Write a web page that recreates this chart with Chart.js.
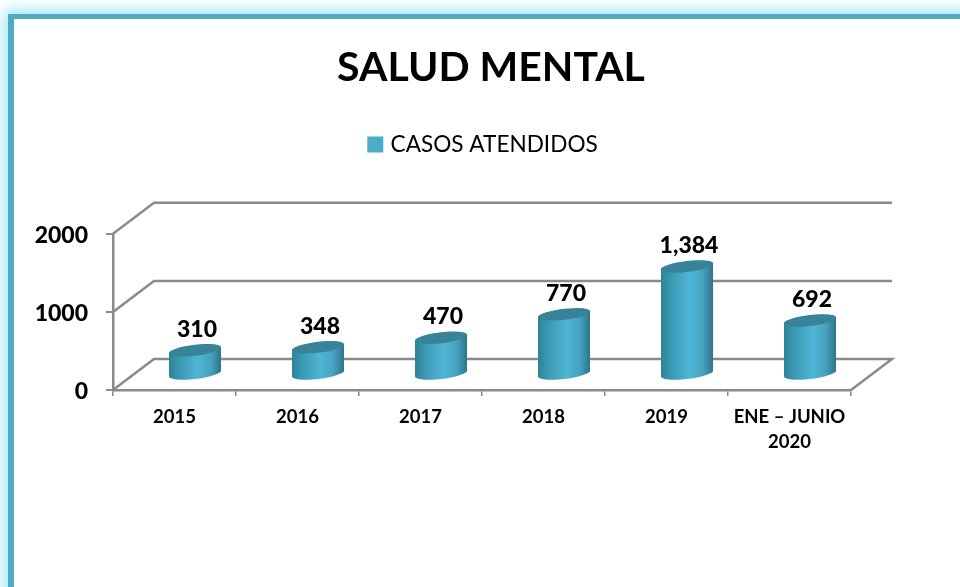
<!DOCTYPE html>
<html><head><meta charset="utf-8">
<script src="https://cdn.jsdelivr.net/npm/chart.js@4"></script>
<style>
html,body{margin:0;padding:0;background:#fff;width:960px;height:587px;overflow:hidden}
#frame{position:absolute;left:8px;top:14px;width:1100px;height:800px;box-sizing:border-box;border-left:6px solid #4BACC6;border-top:5px solid #4BACC6;background:#fff;box-shadow:0 0 14px 4px #a0e4f6}
#wrap{position:absolute;left:0;top:0;width:960px;height:587px}
</style></head><body>
<div id="frame"></div>
<div id="wrap"><canvas id="c" width="960" height="587"></canvas></div>
<script>
const categories = ['2015','2016','2017','2018','2019',['ENE – JUNIO','2020']];
const casos = [310,348,470,770,1384,692];
const seriesName = 'CASOS ATENDIDOS';
const titleText = 'SALUD MENTAL';
const yTicks = [0,1000,2000];

const FONT = 'Lato, Carlito, sans-serif';
const GRAY = '#8a8a8a';
const DEPTH_X = 41, DEPTH_Y = 31;
const BAR_FRAC = 0.423;
const SHEAR = -0.115, RY = 5.5;

function shearEllipse(ctx, cx, cy, r, start, end){
  ctx.save();
  ctx.transform(1, SHEAR, 0, 1, cx, cy);
  ctx.ellipse(0, 0, r, RY, 0, start, end);
  ctx.restore();
}
function radiusOf(bar){ return bar.width/2; }

const cylinders = {
  id:'cylinders',
  beforeLayout(chart){
    const lg = chart.legend;
    if(lg && !lg._spaced){
      const fit = lg.fit;
      lg.fit = function(){ fit.call(this); this.height += 68; };
      lg._spaced = true;
    }
  },
  afterLayout(chart){
    chart.titleBlock.left += 65.5; chart.titleBlock.right += 65.5;
    chart.legend.left += 59; chart.legend.right += 59;
  },
  beforeDatasetsDraw(chart){
    const ctx = chart.ctx, y = chart.scales.y, a = chart.chartArea;
    ctx.save();
    ctx.strokeStyle = GRAY; ctx.lineWidth = 2.5;
    yTicks.forEach(v=>{
      const py = y.getPixelForValue(v);
      ctx.beginPath();
      ctx.moveTo(a.left, py);
      ctx.lineTo(a.left+DEPTH_X, py-DEPTH_Y);
      ctx.lineTo(a.right+DEPTH_X, py-DEPTH_Y);
      if(v===0) ctx.lineTo(a.right, py);
      ctx.stroke();
    });
    ctx.restore();
    const meta = chart.getDatasetMeta(0);
    ctx.save();
    ctx.translate(DEPTH_X/2, -DEPTH_Y/2);
    ctx.beginPath();
    meta.data.forEach(b=>{
      const r = radiusOf(b), base = b.base;
      ctx.moveTo(b.x-r, b.y);
      shearEllipse(ctx, b.x, b.y, r, Math.PI, 2*Math.PI);
      shearEllipse(ctx, b.x, base, r, 0, Math.PI);
      ctx.closePath();
    });
    ctx.clip();
    // fill the curved ends of each cylinder; the library then draws the body
    meta.data.forEach(b=>{
      const r = radiusOf(b);
      ctx.fillStyle = b.options.backgroundColor;
      ctx.fillRect(b.x-r-1, b.y-2*RY-2, 2*r+2, b.base-b.y+4*RY+4);
    });
  },
  afterDatasetsDraw(chart){
    const ctx = chart.ctx, meta = chart.getDatasetMeta(0);
    meta.data.forEach(b=>{
      ctx.fillStyle = '#38839a';
      ctx.beginPath();
      shearEllipse(ctx, b.x, b.y, radiusOf(b), 0, 2*Math.PI);
      ctx.fill();
    });
    ctx.restore();
    ctx.save();
    ctx.fillStyle = '#000';
    ctx.font = '900 23px '+FONT;
    ctx.textAlign = 'center';
    ctx.textBaseline = 'middle';
    meta.data.forEach((b,i)=>{
      ctx.fillText(casos[i].toLocaleString('en-US'), b.x+DEPTH_X/2+2, b.y-DEPTH_Y/2-21);
    });
    ctx.restore();
  }
};

new Chart(document.getElementById('c'),{
  type:'bar',
  data:{labels:categories,datasets:[{
    label:seriesName,
    data:casos,
    clip:false,
    borderWidth:0,
    barPercentage:BAR_FRAC,
    categoryPercentage:1,
    backgroundColor(c){
      const chart = c.chart;
      if(!chart.chartArea || c.dataIndex===undefined) return '#4BACC6';
      const sx = chart.scales.x;
      const px = sx.getPixelForValue(c.dataIndex);
      const half = sx.width/categories.length*BAR_FRAC/2;
      const g = chart.ctx.createLinearGradient(px-half,0,px+half,0);
      g.addColorStop(0,'#2f8299');
      g.addColorStop(0.18,'#3a97b0');
      g.addColorStop(0.55,'#4fb6d6');
      g.addColorStop(0.8,'#45a3bf');
      g.addColorStop(1,'#2d7488');
      return g;
    }
  }]},
  plugins:[cylinders],
  options:{
    responsive:false,animation:false,
    layout:{padding:{left:0,right:109,top:0,bottom:0}},
    plugins:{
      title:{display:true,text:titleText,color:'#000',
        font:{family:FONT,size:41,weight:'bold',lineHeight:1.2},
        padding:{top:43,bottom:31}},
      legend:{display:true,position:'top',
        labels:{color:'#000',font:{family:FONT,size:22.6},boxWidth:8,boxHeight:8,padding:10,
          generateLabels(){return [{text:seriesName,fillStyle:'#4BACC6',strokeStyle:'#4BACC6',lineWidth:8,datasetIndex:0}];}}},
      tooltip:{enabled:false}
    },
    scales:{
      x:{
        afterFit(s){s.height=197;},
        grid:{drawOnChartArea:false,drawTicks:true,tickLength:6,color:GRAY,lineWidth:1.5},
        border:{display:true,color:GRAY,width:2.5},
        ticks:{color:'#000',font:{family:FONT,size:18.5,weight:'bold',lineHeight:1.35},maxRotation:0,padding:9}
      },
      y:{
        min:0,max:2000,
        afterFit(s){s.width=113;},
        afterBuildTicks(s){s.ticks=yTicks.map(v=>({value:v}));},
        grid:{drawOnChartArea:false,drawTicks:true,tickLength:7,color:GRAY,lineWidth:2},
        border:{display:true,color:GRAY,width:2.5},
        ticks:{color:'#000',font:{family:FONT,size:23,weight:'900'},padding:18,labelOffset:2,callback(v){return String(v);}}
      }
    }
  }
});
</script>
</body></html>
